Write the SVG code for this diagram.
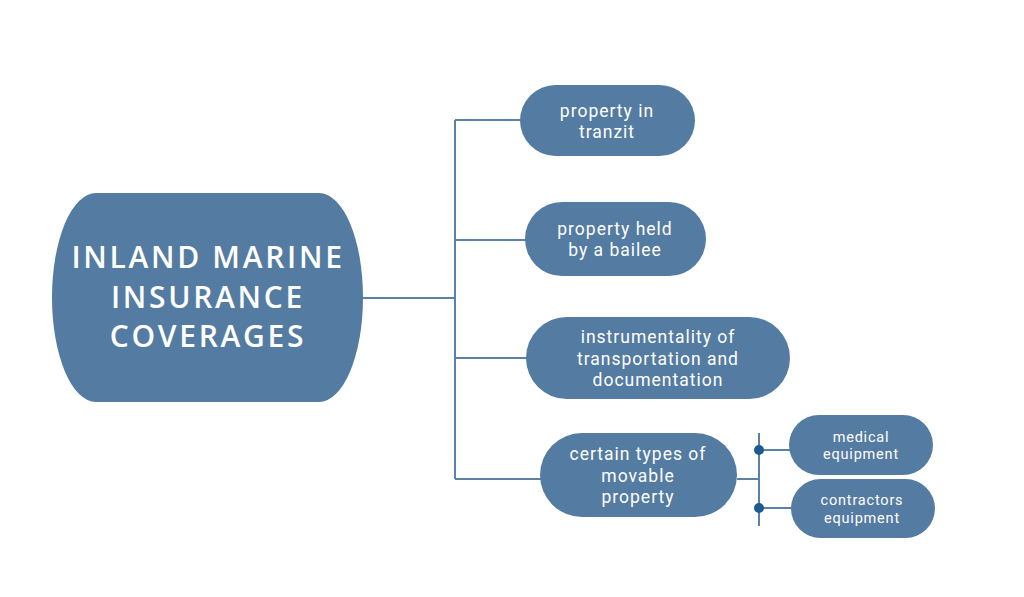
<svg xmlns="http://www.w3.org/2000/svg" width="1024" height="597" viewBox="0 0 1024 597">
<style>
.node{fill:#547ba2}
.t{fill:#ffffff;font-family:Roboto,"Liberation Sans",sans-serif;font-size:17.5px;letter-spacing:1px;text-anchor:middle}
.s{font-size:14.5px;letter-spacing:0.8px}
.title{fill:#ffffff;font-family:"Open Sans","DejaVu Sans",sans-serif;font-weight:600;font-size:30px;letter-spacing:2.7px;text-anchor:middle}
.c{fill:none;stroke:#5b81a9;stroke-width:2}
.dot{fill:#1f5a8e}
</style>
<rect width="1024" height="597" fill="#ffffff"/>
<g id="connectors">
<path class="c" d="M363 298H455M455 120V479M455 120H521M455 240H526M455 358H527M455 479H541"/>
<path class="c" d="M737 479H759M759 433V526M759 450H790M759 508H792"/>
<circle class="dot" cx="759" cy="450" r="5"/>
<circle class="dot" cx="759" cy="508" r="5"/>
</g>
<g id="root">
<rect class="node" x="52" y="193" width="311" height="209" rx="44" ry="104.5"/>
<text class="title" x="208" y="268">INLAND MARINE</text>
<text class="title" x="208" y="308">INSURANCE</text>
<text class="title" x="208" y="347">COVERAGES</text>
</g>
<g id="n1">
<rect class="node" x="520" y="85" width="175" height="71" rx="35.5"/>
<text class="t" x="607" y="117">property in</text>
<text class="t" x="607" y="138">tranzit</text>
</g>
<g id="n2">
<rect class="node" x="525" y="202" width="181" height="74" rx="37"/>
<text class="t" x="615" y="235">property held</text>
<text class="t" x="615" y="256">by a bailee</text>
</g>
<g id="n3">
<rect class="node" x="526" y="317" width="264" height="82" rx="41"/>
<text class="t" x="658" y="343">instrumentality of</text>
<text class="t" x="658" y="365">transportation and</text>
<text class="t" x="658" y="386">documentation</text>
</g>
<g id="n4">
<rect class="node" x="540" y="433" width="197" height="84" rx="42"/>
<text class="t" x="638" y="460">certain types of</text>
<text class="t" x="638" y="482">movable</text>
<text class="t" x="638" y="503">property</text>
</g>
<g id="n5">
<rect class="node" x="789" y="415" width="144" height="60" rx="30"/>
<text class="t s" x="861" y="442">medical</text>
<text class="t s" x="861" y="459">equipment</text>
</g>
<g id="n6">
<rect class="node" x="791" y="479" width="144" height="59" rx="29.5"/>
<text class="t s" x="862" y="505">contractors</text>
<text class="t s" x="862" y="523">equipment</text>
</g>
</svg>
